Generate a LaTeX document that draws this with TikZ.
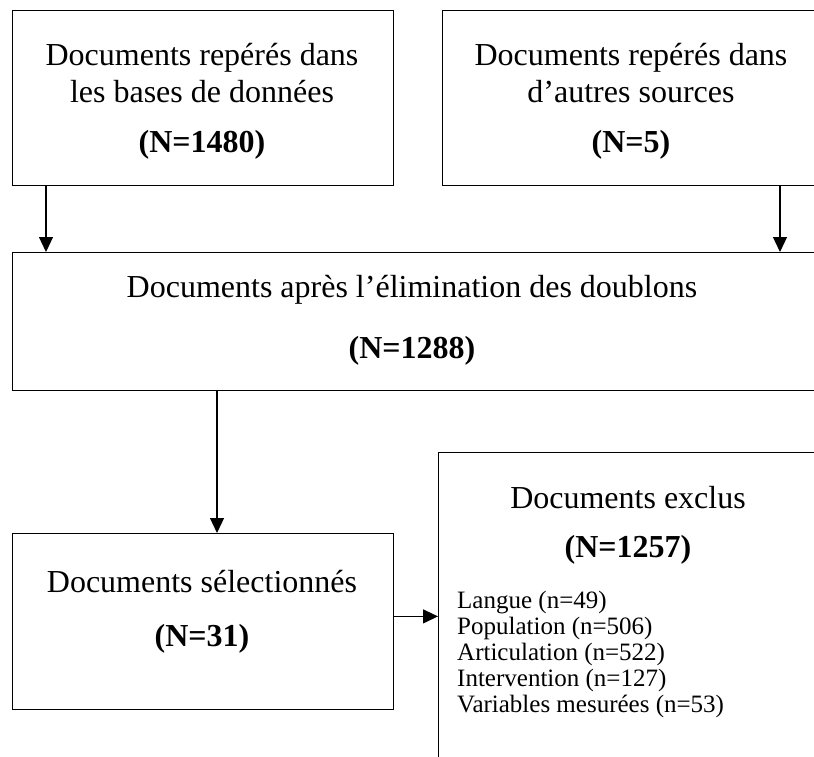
\documentclass[tikz,border=0pt]{standalone}
\usepackage{fontspec}
\setmainfont{Liberation Serif}
\usetikzlibrary{arrows.meta, positioning}

\begin{document}
\begin{tikzpicture}[
      x=1pt, y=-1pt,
      boite/.style={draw, line width=1.3pt, inner sep=0pt, anchor=north west,
                    minimum width=381pt, minimum height=175.5pt},
      titre/.style={align=center, inner sep=0pt, font=\fontsize{32}{37}\selectfont},
      liste/.style={align=left, inner sep=0pt, anchor=north west,
                    font=\fontsize{25}{26}\selectfont},
      fleche/.style={-{Triangle[length=15pt, width=14pt]}, line width=1.2pt}
    ]
    \useasboundingbox (0,0) rectangle (814,756);
    \clip (0,0) rectangle (814,756);

    % Boxes
    \node[boite] (bases) at (12,9.5) {};
    \node[boite] (autres) at (442,9.5) {};
    \node[boite, minimum width=811pt, minimum height=138pt] (doublons) at (12,252) {};
    \node[boite] (selection) at (12,533) {};
    \node[boite, minimum height=340pt] (exclus) at (438,452) {};

    % Texts
    \node[titre] (t-bases) at (202,100.8)
      {Documents repérés dans\\les bases de données\\[13pt]\textbf{(N=1480)}};
    \node[titre] (t-autres) at (631,100.8)
      {Documents repérés dans\\d’autres sources\\[13pt]\textbf{(N=5)}};
    \node[titre] (t-doublons) at (412,319.8)
      {Documents après l’élimination des doublons\\[24pt]\textbf{(N=1288)}};
    \node[titre] (t-selection) at (202,611.3)
      {Documents sélectionnés\\[17pt]\textbf{(N=31)}};
    \node[titre] (t-exclus) at (628,524.8)
      {Documents exclus\\[12pt]\textbf{(N=1257)}};
    \node[liste] (motifs) at (457,591)
      {Langue (n=49)\\Population (n=506)\\Articulation (n=522)\\Intervention (n=127)\\Variables mesurées (n=53)};

    % Arrows
    \draw[fleche] ([xshift=34pt]bases.south west) -- ([xshift=34pt]doublons.north west);
    \draw[fleche] ([xshift=338pt]autres.south west) -- ([xshift=338pt]autres.south west |- doublons.north);
    \draw[fleche] ([xshift=205pt]doublons.south west) -- ([xshift=205pt]doublons.south west |- selection.north);
    \draw[fleche] ([yshift=5pt]selection.east) -- ([yshift=5pt]selection.east -| exclus.west);
\end{tikzpicture}
\end{document}
